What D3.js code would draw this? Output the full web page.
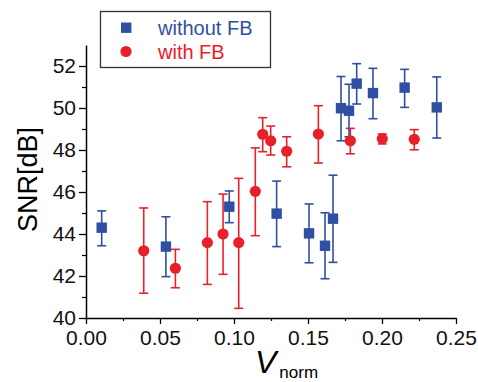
<!DOCTYPE html>
<html>
<head>
<meta charset="utf-8">
<script src="https://cdn.jsdelivr.net/npm/d3@7"></script>
<style>
  body { margin: 0; background: #fff; }
  svg { font-family: "Liberation Sans", Arial, sans-serif; }
</style>
</head>
<body>
<div id="chart"></div>
<script>
// without FB (blue squares)
var noFbX  = [0.0106, 0.054, 0.0968, 0.1288, 0.1507, 0.1615, 0.1669, 0.1723, 0.1777, 0.1829, 0.1939, 0.2153, 0.237];
var noFbY  = [44.30, 43.40, 45.30, 44.97, 44.03, 43.44, 44.73, 49.99, 49.87, 51.16, 50.71, 50.97, 50.03];
var noFbHi = [45.10, 44.82, 46.05, 46.52, 45.43, 45.01, 46.80, 51.50, 51.13, 52.11, 51.89, 51.84, 51.48];
var noFbLo = [43.44, 41.97, 44.54, 43.40, 42.63, 41.87, 42.65, 48.44, 48.63, 50.19, 49.49, 50.03, 48.57];

// with FB (red circles)
var fbX  = [0.039, 0.0604, 0.082, 0.0926, 0.1032, 0.1144, 0.1194, 0.1248, 0.1356, 0.157, 0.1786, 0.2002, 0.2218];
var fbY  = [43.20, 42.37, 43.59, 44.00, 43.59, 46.03, 48.75, 48.44, 47.94, 48.76, 48.44, 48.54, 48.51];
var fbHi = [45.24, 43.27, 45.54, 45.90, 46.65, 48.10, 49.54, 49.14, 48.63, 50.11, 49.03, 48.76, 48.97];
var fbLo = [41.18, 41.44, 41.60, 42.08, 40.46, 43.92, 47.92, 47.76, 47.20, 47.38, 47.82, 48.29, 48.01];

var xTicks = [0, 0.05, 0.10, 0.15, 0.20, 0.25];
var yTicks = [40, 42, 44, 46, 48, 50, 52];

var width = 478, height = 382;
var margin = {top: 45, right: 22, bottom: 64, left: 86};

var blue = "#2f4fa2", red = "#e8202a";

var svg = d3.select("#chart").append("svg")
    .attr("width", width)
    .attr("height", height);

var x = d3.scaleLinear().domain([0, 0.25]).range([margin.left, width - margin.right]);
var y = d3.scaleLinear().domain([40, 53]).range([height - margin.bottom, margin.top]);

// minor ticks
svg.append("g")
    .attr("transform", "translate(0," + y(40) + ")")
    .call(d3.axisBottom(x).tickValues(d3.range(0.025, 0.25, 0.05)).tickSize(3).tickFormat(""))
    .call(function(g){ g.select(".domain").remove(); g.selectAll("line").attr("stroke-width", 1.2); });
svg.append("g")
    .attr("transform", "translate(" + x(0) + ",0)")
    .call(d3.axisLeft(y).tickValues(d3.range(41, 53, 2)).tickSize(4).tickFormat(""))
    .call(function(g){ g.select(".domain").remove(); g.selectAll("line").attr("stroke-width", 1.2); });

// major axes
var xAxis = svg.append("g")
    .attr("transform", "translate(0," + y(40) + ")")
    .call(d3.axisBottom(x).tickValues(xTicks).tickSize(6).tickSizeOuter(0).tickPadding(6).tickFormat(d3.format(".2f")));
var yAxis = svg.append("g")
    .attr("transform", "translate(" + x(0) + ",0)")
    .call(d3.axisLeft(y).tickValues(yTicks).tickSize(7).tickSizeOuter(0).tickPadding(3));

[xAxis, yAxis].forEach(function(g){
    g.select(".domain").attr("stroke-width", 1.5);
    g.selectAll("line").attr("stroke-width", 1.3);
    g.selectAll("text").style("font-size", "21px").attr("fill", "#111");
});

// axis titles
svg.append("text")
    .attr("transform", "translate(37," + y(46.6) + ") rotate(-90)")
    .attr("text-anchor", "middle")
    .style("font-size", "27px")
    .text("SNR[dB]");

var xt = svg.append("text")
    .attr("x", 255).attr("y", 373)
    .attr("text-anchor", "start");
xt.append("tspan").style("font-size", "32px").style("font-style", "italic").text("V");
xt.append("tspan").attr("dx", 3).attr("dy", 5).style("font-size", "17px").text("norm");

function errorBars(xs, ys, hi, lo, color) {
    var g = svg.append("g").attr("stroke", color).attr("stroke-width", 1.6).attr("fill", "none");
    xs.forEach(function(d, i){
        var cx = x(d);
        g.append("line").attr("x1", cx).attr("x2", cx).attr("y1", y(hi[i])).attr("y2", y(lo[i]));
        g.append("line").attr("x1", cx - 4.5).attr("x2", cx + 4.5).attr("y1", y(hi[i])).attr("y2", y(hi[i]));
        g.append("line").attr("x1", cx - 4.5).attr("x2", cx + 4.5).attr("y1", y(lo[i])).attr("y2", y(lo[i]));
    });
}

errorBars(fbX, fbY, fbHi, fbLo, red);
errorBars(noFbX, noFbY, noFbHi, noFbLo, blue);

svg.append("g").selectAll("circle")
    .data(fbX)
    .enter().append("circle")
    .attr("cx", function(d){ return x(d); })
    .attr("cy", function(d, i){ return y(fbY[i]); })
    .attr("r", 5.6)
    .attr("fill", red);

svg.append("g").selectAll("rect")
    .data(noFbX)
    .enter().append("rect")
    .attr("x", function(d){ return x(d) - 5.2; })
    .attr("y", function(d, i){ return y(noFbY[i]) - 5.2; })
    .attr("width", 10.4).attr("height", 10.4)
    .attr("fill", blue);

// legend
var leg = svg.append("g");
leg.append("rect")
    .attr("x", 100.5).attr("y", 11.5).attr("width", 170).attr("height", 56)
    .attr("fill", "#fff").attr("stroke", "#333").attr("stroke-width", 1.3);
leg.append("rect").attr("x", 121).attr("y", 22.5).attr("width", 10.4).attr("height", 10.4).attr("fill", blue);
leg.append("circle").attr("cx", 126).attr("cy", 51.5).attr("r", 5.6).attr("fill", red);
leg.append("text").attr("x", 158).attr("y", 35).style("font-size", "20px").attr("fill", blue).text("without FB");
leg.append("text").attr("x", 158).attr("y", 58.5).style("font-size", "20px").attr("fill", red).text("with FB");
</script>
</body>
</html>
